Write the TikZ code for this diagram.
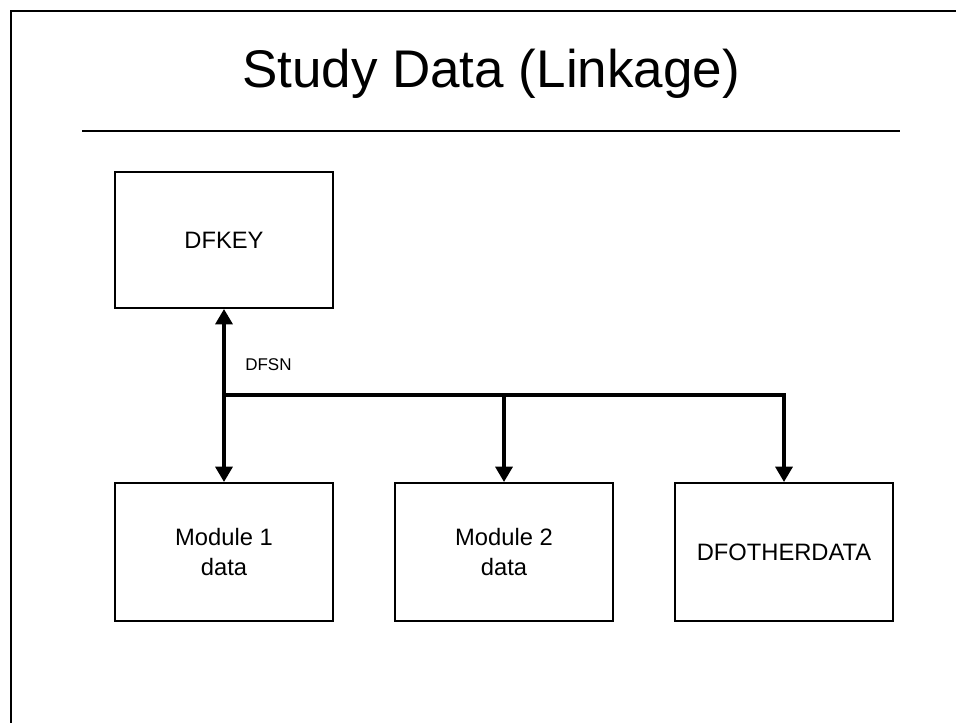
\documentclass[tikz,border=0pt]{standalone}
\usepackage{fontspec}
\setmainfont{Liberation Sans}
\usetikzlibrary{arrows.meta}

\tikzset{
  box/.style={draw, line width=1.5pt, minimum width=163.5pt, minimum height=103.5pt,
              align=center, inner sep=0pt, font=\fontsize{17.8pt}{22.5pt}\selectfont},
  tip/.tip={Triangle[width=12.75pt,length=11.5pt]},
  link/.style={line width=2.5pt, -tip},
  rule/.style={line width=1.5pt},
}

\begin{document}
\begin{tikzpicture}[x=0.75pt,y=-0.75pt]
  \useasboundingbox (0,0) rectangle (956,723);

  % frame edges and title rule
  \draw[rule] (11,740) -- (11,11) -- (970,11);
  \draw[rule] (82,131) -- (900,131);

  \node[font=\fontsize{39.75pt}{48pt}\selectfont] (title) at (491,74) {Study Data (Linkage)};

  % tables
  \node[box, minimum height=102pt] (key) at (224,240) {DFKEY};
  \node[box] (m1) at (224,552) {Module 1\\data};
  \node[box] (m2) at (504,552) {Module 2\\data};
  \node[box] (other) at (784,552) {DFOTHERDATA};

  % linkage field connectors
  \coordinate (j) at (224,395);
  \draw[link, tip-tip] (key.south) -- (m1.north);
  \draw[link] (j) -| (other.north);
  \draw[link] (j -| m2.north) -- (m2.north);

  \node[anchor=west, font=\fontsize{12.75pt}{15pt}\selectfont, inner sep=0pt] (dfsn) at (245,365) {DFSN};
\end{tikzpicture}
\end{document}
